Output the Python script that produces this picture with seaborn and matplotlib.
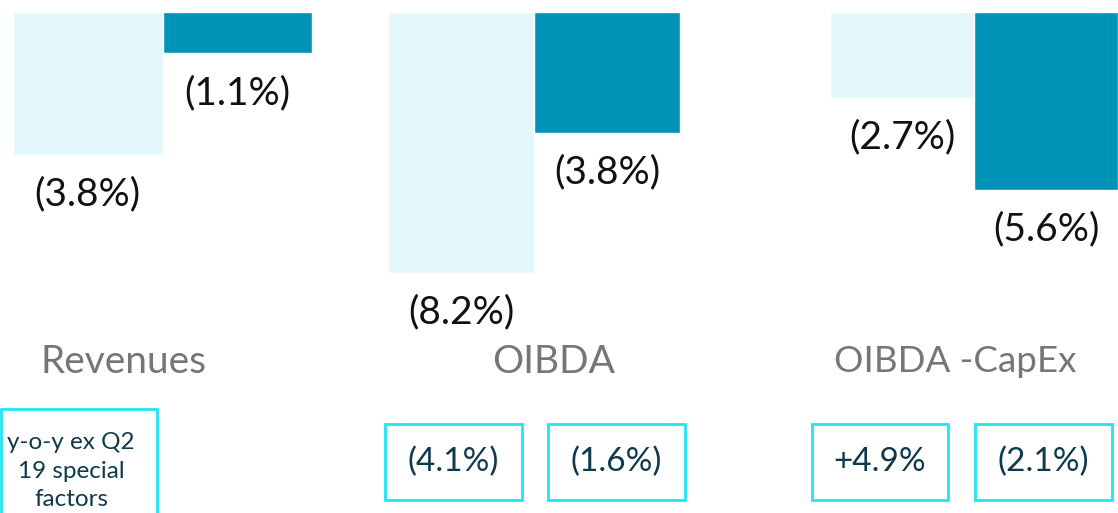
import matplotlib
matplotlib.use("Agg")
import matplotlib.pyplot as plt
import seaborn as sns
import pandas as pd
from matplotlib.patches import Rectangle

sns.set_theme(style="white")
plt.rcParams['font.family'] = ['Lato', 'DejaVu Sans']

# ---- data ----
groups = ["Revenues", "OIBDA", "OIBDA -CapEx"]
series = ["A", "B"]
revenues_vals = [-3.8, -1.1]
oibda_vals = [-8.2, -3.8]
capex_vals = [-2.7, -5.6]
revenues_labels = ["(3.8%)", "(1.1%)"]
oibda_labels = ["(8.2%)", "(3.8%)"]
capex_labels = ["(2.7%)", "(5.6%)"]
box_note = "y-o-y ex Q2\n19 special\nfactors"
oibda_box = ["(4.1%)", "(1.6%)"]
capex_box = ["+4.9%", "(2.1%)"]

LIGHT = "#E3F7FD"
DARK = "#0093B8"
BOXEDGE = "#1EE6F5"
BOXTEXT = "#0E3A4E"
GRAY = "#767676"

W, H = 1118, 513
fig = plt.figure(figsize=(W / 100, H / 100), dpi=100)

def rect_px(left, right, top, bottom):
    return [left / W, 1 - bottom / H, (right - left) / W, (bottom - top) / H]

panels = [
    (revenues_vals, revenues_labels, (13, 312), -288 / 37.5),
    (oibda_vals, oibda_labels, (388, 680), -288 / 31.8),
    (capex_vals, capex_labels, (830, 1118), -288 / 31.8),
]

for vals, labels, (l, r), ymin in panels:
    ax = fig.add_axes(rect_px(l, r, 12, 300))
    df = pd.DataFrame({"s": series, "v": vals})
    sns.barplot(data=df, x="s", y="v", hue="s", palette=[LIGHT, DARK],
                width=1.0, saturation=1, legend=False, ax=ax)
    ax.set_xlim(-0.5, 1.5)
    ax.set_ylim(ymin, 0)
    ax.axis("off")
    for i, (v, lab) in enumerate(zip(vals, labels)):
        ax.annotate(lab, (i, v), xytext=(0, -28.5), textcoords="offset points",
                    ha="center", va="center", fontsize=28, color="#111111")

# category labels
for name, cx, fs in zip(groups, [123, 554, 955], [28, 28, 26.5]):
    fig.text(cx / W, 1 - 362 / H, name, ha="center", va="center",
             fontsize=fs, color=GRAY)

def box(left, top, right, bottom, text, fs=24):
    fig.add_artist(Rectangle((left / W, 1 - bottom / H), (right - left) / W,
                             (bottom - top) / H, transform=fig.transFigure,
                             fill=False, edgecolor=BOXEDGE, linewidth=2))
    fig.text((left + right) / 2 / W, 1 - (top + bottom) / 2 / H, text,
             ha="center", va="center", fontsize=fs, color=BOXTEXT)

fig.add_artist(Rectangle((0.5 / W, 1 - 530 / H), 156 / W, 121 / H,
                         transform=fig.transFigure, fill=False,
                         edgecolor=BOXEDGE, linewidth=2))
fig.text(71 / W, 1 - 471 / H, box_note, ha="center", va="center",
         fontsize=17.5, color=BOXTEXT, linespacing=1.45)

box(385, 424, 522, 500, oibda_box[0])
box(548, 424, 685, 500, oibda_box[1])
box(812, 424, 948, 500, capex_box[0])
box(975, 424, 1112, 500, capex_box[1])

fig.savefig("out.png", dpi=100)
